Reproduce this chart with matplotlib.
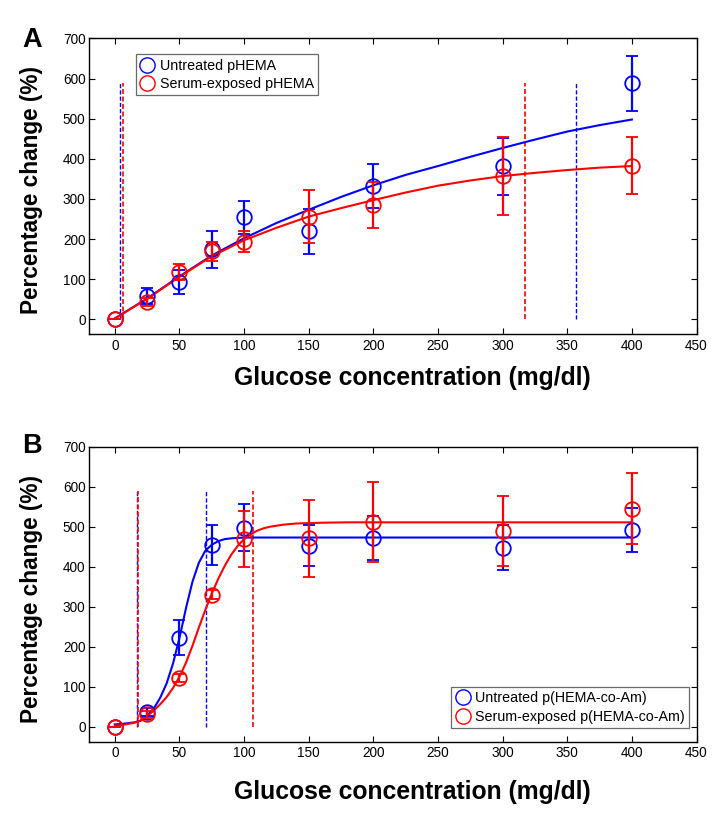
import matplotlib
matplotlib.use("Agg")
import matplotlib.pyplot as plt
from matplotlib.lines import Line2D

plt.rcParams['font.family'] = ['Liberation Sans', 'DejaVu Sans']

# ---------------- data ----------------
glucose = [0, 25, 50, 75, 100, 150, 200, 300, 400]

# Panel A  (pHEMA)
a_blue_y = [0, 58, 92, 174, 254, 219, 332, 381, 588]
a_blue_err = [0, 19, 30, 46, 42, 57, 55, 72, 68]
a_red_y = [0, 44, 118, 169, 193, 256, 284, 357, 383]
a_red_err = [0, 10, 19, 23, 26, 67, 57, 97, 71]

a_fit_x = [0, 25, 50, 75, 100, 125, 150, 175, 200, 225, 250, 275, 300, 325, 350, 375, 400]
a_blue_fit = [2, 52, 107, 159, 202, 240, 273, 305, 334, 360, 382, 405, 427, 448, 468, 484, 498]
a_red_fit = [2, 51, 106, 157, 197, 228, 256, 277, 297, 316, 333, 346, 357, 365, 372, 378, 382]

a_blue_dash = [4, 357]
a_red_dash = [6, 317]
a_dash_top = 590

# Panel B  (p(HEMA-co-Am))
b_blue_y = [0, 37, 223, 454, 498, 453, 471, 448, 491]
b_blue_err = [0, 9, 44, 50, 58, 51, 55, 57, 55]
b_red_y = [0, 31, 122, 330, 469, 471, 511, 489, 545]
b_red_err = [0, 9, 9, 11, 70, 97, 100, 87, 89]

b_blue_fit_x = [0, 5, 10, 15, 20, 25, 30, 35, 40, 45, 50, 55, 60, 65, 70, 75, 80, 85, 90,
                95, 100, 110, 120, 150, 200, 300, 400]
b_blue_fit = [6, 7, 9, 11, 15, 28, 45, 72, 108, 158, 222, 296, 362, 410, 440, 455, 464, 469, 471,
              472, 473, 473, 473, 473, 473, 473, 473]
b_red_fit_x = [0, 5, 10, 15, 20, 25, 30, 35, 40, 45, 50, 55, 60, 65, 70, 75, 80, 85, 90, 95,
               100, 105, 110, 115, 120, 130, 140, 150, 160, 180, 200, 300, 400]
b_red_fit = [3, 4, 7, 10, 16, 27, 40, 56, 74, 97, 125, 160, 202, 248, 292, 333, 370, 402, 430, 452,
             469, 481, 490, 496, 500, 505, 508, 509, 510, 511, 511, 511, 511]

b_blue_dash = [17.5, 70.5]
b_red_dash = [18, 107]
b_dash_top = 590

xticks = [0, 50, 100, 150, 200, 250, 300, 350, 400, 450]
yticks = [0, 100, 200, 300, 400, 500, 600, 700]

BLUE = '#0000ff'
RED = '#ff0000'

fig = plt.figure(figsize=(7.24, 8.21), dpi=100)
W, H = 724, 821


def add_axes(left, top, right, bottom):
    return fig.add_axes([left / W, 1 - bottom / H, (right - left) / W, (bottom - top) / H])


axA = add_axes(89, 38.5, 696.5, 334.5)
axB = add_axes(89, 446.7, 696.5, 742)


def style(ax):
    ax.set_xlim(-20, 450)
    ax.set_ylim(-38, 700)
    ax.set_xticks(xticks)
    ax.set_yticks(yticks)
    ax.tick_params(direction='in', length=4, width=0.8, top=True, right=True,
                   labelsize=9.8, pad=2.5)
    ax.tick_params(axis='x', pad=3)
    for s in ax.spines.values():
        s.set_linewidth(1.0)
        s.set_color('black')


def draw(ax, yb, eb, yr, er, fxb, fb, fxr, fr, db, dr, dtop):
    ax.vlines(db, 0, dtop, colors=BLUE, linestyles=(0, (3, 1.5)), linewidth=1.0, zorder=2)
    ax.vlines(dr, 0, dtop, colors=RED, linestyles=(0, (3, 1.5)), linewidth=1.2, zorder=2)
    ax.plot(fxb, fb, color=BLUE, lw=1.5, zorder=3)
    ax.plot(fxr, fr, color=RED, lw=1.5, zorder=4)
    ax.errorbar(glucose, yb, yerr=eb, fmt='o', mfc='none', mec=BLUE, ms=10.5, mew=1.3,
                ecolor=BLUE, elinewidth=1.6, capsize=4, capthick=1.6, zorder=5)
    ax.errorbar(glucose, yr, yerr=er, fmt='o', mfc='none', mec=RED, ms=10.5, mew=1.3,
                ecolor=RED, elinewidth=1.6, capsize=4, capthick=1.6, zorder=6)


def legend(ax, labels, loc, anchor):
    handles = [Line2D([], [], ls='none', marker='o', ms=11, mfc='none', mec=BLUE, mew=1.0),
               Line2D([], [], ls='none', marker='o', ms=11, mfc='none', mec=RED, mew=1.0)]
    lg = ax.legend(handles, labels, loc=loc, bbox_to_anchor=anchor, fontsize=10.3,
                   frameon=True, fancybox=False, borderpad=0.3, labelspacing=0.3,
                   handlelength=1.0, handletextpad=0.35, borderaxespad=0.0)
    lg.get_frame().set_edgecolor('#444444')
    lg.get_frame().set_linewidth(0.9)


for ax in (axA, axB):
    style(ax)

draw(axA, a_blue_y, a_blue_err, a_red_y, a_red_err, a_fit_x, a_blue_fit, a_fit_x, a_red_fit,
     a_blue_dash, a_red_dash, a_dash_top)
draw(axB, b_blue_y, b_blue_err, b_red_y, b_red_err, b_blue_fit_x, b_blue_fit, b_red_fit_x, b_red_fit,
     b_blue_dash, b_red_dash, b_dash_top)

legend(axA, ['Untreated pHEMA', 'Serum-exposed pHEMA'], 'upper left', (0.0774, 0.9466))
legend(axB, ['Untreated p(HEMA-co-Am)', 'Serum-exposed p(HEMA-co-Am)'], 'lower right', (0.9877, 0.0474))

for ax, ly, xy in ((axA, 0.488, -0.108), (axB, 0.484, -0.13)):
    ax.set_ylabel('Percentage change (%)', fontsize=16.3, fontweight='bold')
    ax.yaxis.set_label_coords(-0.0757, ly)
    ax.set_xlabel('Glucose concentration (mg/dl)', fontsize=17.8, fontweight='bold')
    ax.xaxis.set_label_coords(0.5325, xy)

fig.text(22 / W, 1 - 47 / H, 'A', fontsize=19.5, fontweight='bold', ha='left', va='baseline')
fig.text(22 / W, 1 - 453 / H, 'B', fontsize=19.5, fontweight='bold', ha='left', va='baseline')

fig.savefig('out.png', dpi=100)
